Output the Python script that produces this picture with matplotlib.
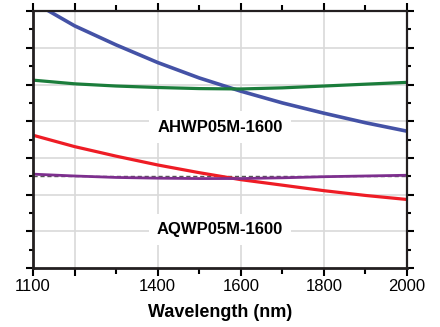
import numpy as np
import matplotlib
matplotlib.use("Agg")
from matplotlib import pyplot as plt
from matplotlib.ticker import FixedLocator, FixedFormatter

plt.rcParams['font.family'] = ['Liberation Sans', 'DejaVu Sans']

# data (retardance in waves)
wavelength = [1100, 1200, 1300, 1400, 1500, 1600, 1700, 1800, 1900, 2000]
hwp_blue   = [0.725, 0.660, 0.608, 0.560, 0.518, 0.482, 0.450, 0.422, 0.396, 0.373]
hwp_green  = [0.512, 0.502, 0.496, 0.492, 0.489, 0.488, 0.491, 0.496, 0.501, 0.506]
qwp_red    = [0.362, 0.331, 0.305, 0.281, 0.260, 0.241, 0.226, 0.211, 0.198, 0.187]
qwp_purple = [0.256, 0.251, 0.247, 0.245, 0.244, 0.244, 0.246, 0.249, 0.251, 0.253]
qwp_target = 0.25

x_major = [1100, 1200, 1400, 1600, 1800, 2000]
x_labels = ['1100', '', '1400', '1600', '1800', '2000']
x_minor = [1300, 1500, 1700, 1900]
x_grid = [1200, 1400, 1600, 1800]

fig = plt.figure(figsize=(4.4, 3.27), dpi=100)
ax = fig.add_axes([0.075, 0.180, 0.850, 0.786])

for g in x_grid:
    ax.axvline(g, color='#d9d9d9', lw=1.2, zorder=0)
for g in np.arange(0.1, 0.7, 0.1):
    ax.axhline(g, color='#d9d9d9', lw=1.2, zorder=0)

ax.axhline(qwp_target, color='#555555', lw=1.0, ls=(0, (3, 2)), zorder=1)

style = dict(solid_joinstyle='round', solid_capstyle='butt', zorder=3)
ax.plot(wavelength, hwp_blue, color='#4452a6', lw=2.6, **style)
ax.plot(wavelength, hwp_green, color='#1b7d3b', lw=2.3, **style)
ax.plot(wavelength, qwp_red, color='#ee1c25', lw=2.3, **style)
ax.plot(wavelength, qwp_purple, color='#7d2f8e', lw=2.0, solid_joinstyle='round', zorder=4)

box = dict(facecolor='white', edgecolor='none', pad=6)
ax.text(1550, 0.384, 'AHWP05M-1600', ha='center', va='center', fontsize=12,
        fontweight='bold', bbox=box, zorder=2)
ax.text(1550, 0.105, 'AQWP05M-1600', ha='center', va='center', fontsize=12,
        fontweight='bold', bbox=box, zorder=2)

ax.set_xlim(1100, 2000)
ax.set_ylim(0, 0.7)

ax.xaxis.set_major_locator(FixedLocator(x_major))
ax.xaxis.set_major_formatter(FixedFormatter(x_labels))
ax.xaxis.set_minor_locator(FixedLocator(x_minor))
ax.yaxis.set_major_locator(FixedLocator(np.arange(0, 0.71, 0.1)))
ax.yaxis.set_minor_locator(FixedLocator(np.arange(0.05, 0.7, 0.1)))
ax.set_yticklabels([])

ax.tick_params(axis='x', which='major', direction='out', length=6, width=1.5,
               labelsize=12, pad=2, top=True)
ax.tick_params(axis='x', which='minor', direction='out', length=4, width=1.5, top=True)
ax.tick_params(axis='y', which='major', direction='out', length=5, width=1.5, right=True)
ax.tick_params(axis='y', which='minor', direction='out', length=3, width=1.5, right=True)

for side in ['left', 'bottom']:
    ax.spines[side].set_linewidth(2.0)
for side in ['right', 'top']:
    ax.spines[side].set_linewidth(1.6)
for s in ax.spines.values():
    s.set_color('#231f20')
    s.set_zorder(5)

ax.set_xlabel('Wavelength (nm)', fontsize=13, fontweight='bold', labelpad=7)

fig.savefig('out.png', dpi=100)
